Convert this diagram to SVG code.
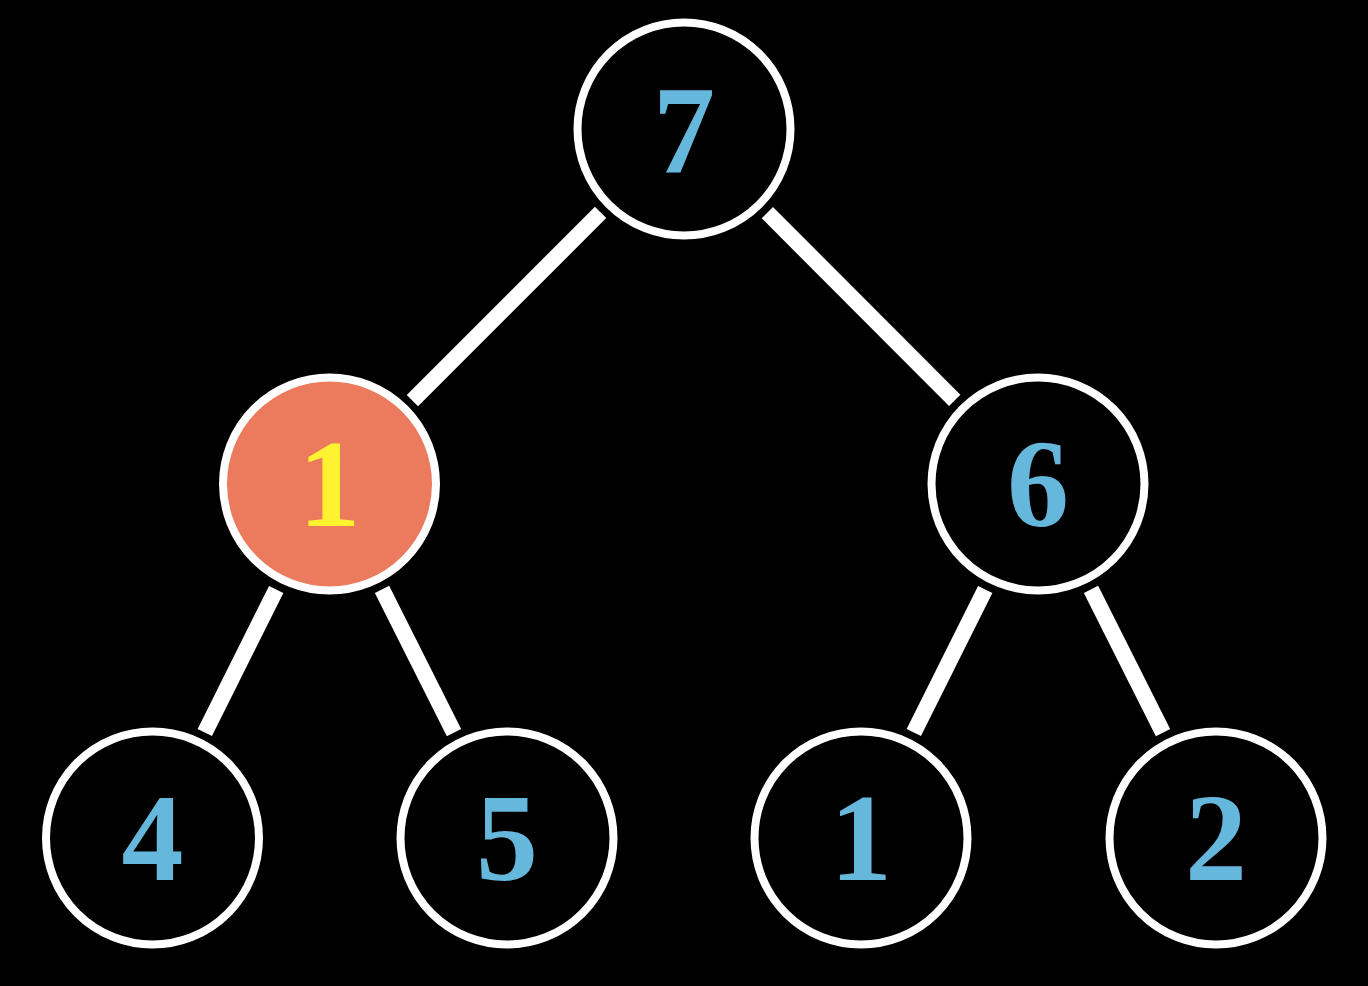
<svg xmlns="http://www.w3.org/2000/svg" width="1368" height="986" viewBox="0 0 1368 986">
<style>
.node{fill:#000;stroke:#fff;stroke-width:8}
.hl{fill:#ec7b5e}
.lbl{font-family:"Liberation Serif","DejaVu Serif",serif;font-weight:bold;font-size:124px;fill:#66b7dc;text-anchor:middle}
.lblhl{fill:#fff230}
.edge{stroke:#fff;stroke-width:16;stroke-linecap:butt}
</style>
<rect width="1368" height="986" fill="#000"/>
<g id="connectors">
<line class="edge" x1="600.6" y1="212.4" x2="412.4" y2="400.6"/>
<line class="edge" x1="767.3" y1="212.6" x2="954.7" y2="400.4"/>
<line class="edge" x1="276.2" y1="589.5" x2="204.8" y2="732.5"/>
<line class="edge" x1="382" y1="589.4" x2="454" y2="732.6"/>
<line class="edge" x1="985.2" y1="589.5" x2="913.8" y2="732.5"/>
<line class="edge" x1="1091" y1="589.4" x2="1163" y2="732.6"/>
</g>
<g id="n7"><circle class="node" cx="684" cy="129" r="106.5"/><text class="lbl" x="684" y="172">7</text></g>
<g id="n1"><circle class="node hl" cx="329.5" cy="484" r="106.5"/><text class="lbl lblhl" x="329.5" y="526">1</text></g>
<g id="n6"><circle class="node" cx="1038" cy="484" r="106.5"/><text class="lbl" x="1038" y="526">6</text></g>
<g id="n4"><circle class="node" cx="152.5" cy="838" r="106.5"/><text class="lbl" x="152.5" y="880">4</text></g>
<g id="n5"><circle class="node" cx="507" cy="838" r="106.5"/><text class="lbl" x="507" y="880">5</text></g>
<g id="n1b"><circle class="node" cx="861" cy="838" r="106.5"/><text class="lbl" x="861" y="880">1</text></g>
<g id="n2"><circle class="node" cx="1216" cy="838" r="106.5"/><text class="lbl" x="1216" y="880">2</text></g>
</svg>
